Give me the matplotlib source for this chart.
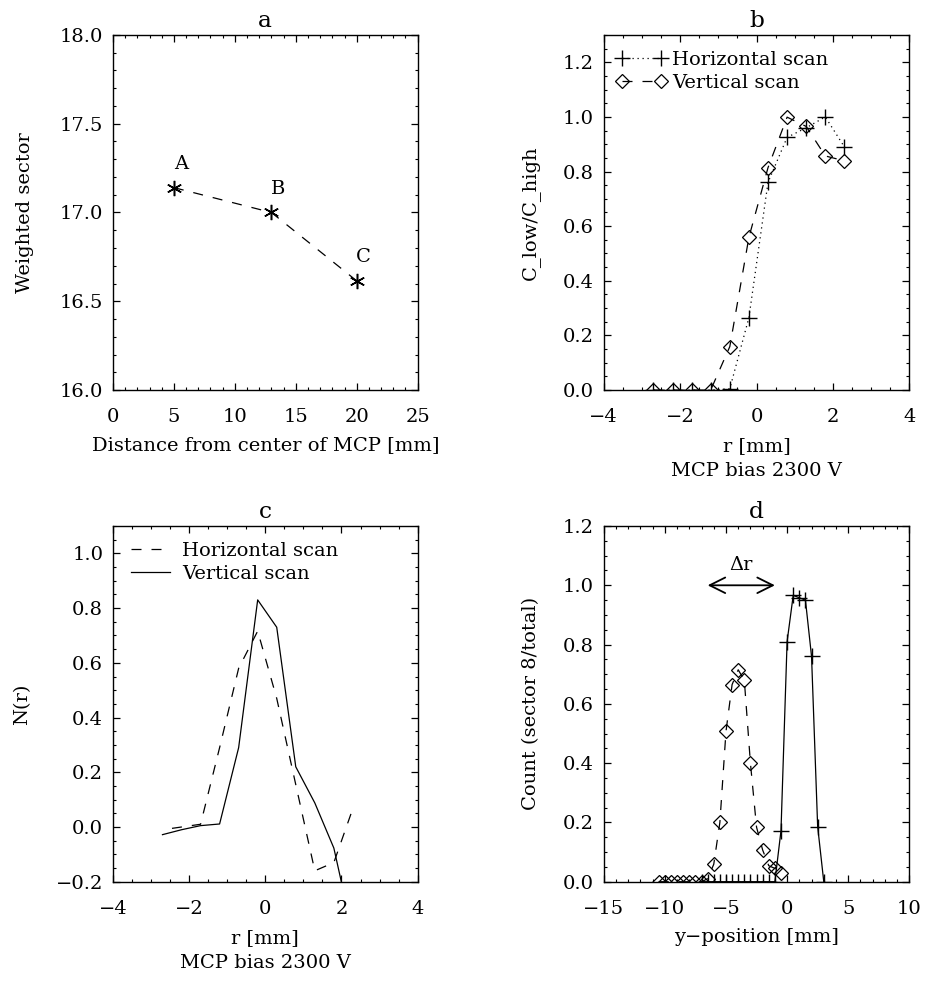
import matplotlib
matplotlib.use("Agg")
import matplotlib.pyplot as plt
from matplotlib.ticker import MultipleLocator, FuncFormatter

plt.rcParams["font.family"] = ["DejaVu Serif"]
plt.rcParams["font.size"] = 14

# panel a: weighted sector vs distance
dist_mm = [5, 13, 20]
weighted_sector = [17.14, 17.0, 16.615]
point_labels = ["A", "B", "C"]

# panel b: C_low/C_high ratio
r_b = [-2.7, -2.2, -1.7, -1.2, -0.7, -0.2, 0.3, 0.8, 1.3, 1.8, 2.3]
ratio_horiz = [0.0, 0.0, 0.0, 0.0, 0.005, 0.265, 0.76, 0.925, 0.96, 1.0, 0.89]
ratio_vert = [0.0, 0.0, 0.0, 0.0, 0.159, 0.559, 0.814, 0.999, 0.965, 0.857, 0.839]

# panel c: N(r)
r_c_horiz = [-2.45, -2.2, -1.7, -1.2, -0.7, -0.2, 0.3, 0.8, 1.3, 1.8, 2.3]
n_horiz = [-0.005, 0.0, 0.01, 0.29, 0.58, 0.716, 0.47, 0.155, -0.16, -0.13, 0.068]
r_c_vert = [-2.7, -2.2, -1.7, -1.2, -0.7, -0.2, 0.3, 0.8, 1.3, 1.8, 2.3]
n_vert = [-0.028, -0.01, 0.005, 0.011, 0.29, 0.83, 0.73, 0.22, 0.088, -0.077, -0.39]

# panel d: count fraction vs y-position
ypos_vert = [-10.5, -10.0, -9.5, -9.0, -8.5, -8.0, -7.5, -7.0, -6.5, -6.0, -5.5,
             -5.0, -4.5, -4.0, -3.5, -3.0, -2.5, -2.0, -1.5, -1.0, -0.5]
count_vert = [0.0, 0.0, 0.0, 0.0, 0.0, 0.0, 0.0, 0.0, 0.01, 0.059, 0.20,
              0.507, 0.665, 0.715, 0.68, 0.40, 0.184, 0.107, 0.054, 0.045, 0.028]
ypos_horiz = [-7.0, -6.5, -6.0, -5.5, -5.0, -4.5, -4.0, -3.5, -3.0, -2.5, -2.0,
              -1.5, -1.0, -0.5, 0.0, 0.5, 1.0, 1.5, 2.0, 2.5, 3.0]
count_horiz = [0.0, 0.0, 0.0, 0.0, 0.0, 0.0, 0.0, 0.0, 0.0, 0.0, 0.0,
               0.0, 0.0, 0.172, 0.81, 0.966, 0.958, 0.95, 0.76, 0.186, 0.0]
delta_r_span = [-6.5, -1.0]

DASH = (0, (8, 8))
DOT = (0, (1, 3))
LW = 0.9


def one_decimal(v, pos):
    s = f"{v:.1f}"
    if s == "-0.0":
        s = "0.0"
    return s.replace("-", "\u2212")


def style_axes(ax, xmaj, xmin, ymaj, ymin, ylab_x):
    ax.xaxis.set_major_locator(MultipleLocator(xmaj))
    ax.xaxis.set_minor_locator(MultipleLocator(xmin))
    ax.yaxis.set_major_locator(MultipleLocator(ymaj))
    ax.yaxis.set_minor_locator(MultipleLocator(ymin))
    ax.yaxis.set_major_formatter(FuncFormatter(one_decimal))
    ax.tick_params(which="both", direction="in", top=True, right=True)
    ax.tick_params(which="major", length=5, width=0.9)
    ax.tick_params(which="minor", length=2.5, width=0.8)
    ax.tick_params(axis="x", which="major", pad=13)
    ax.tick_params(axis="y", which="major", pad=7)
    ax.yaxis.set_label_coords(ylab_x, 0.5)
    for s in ax.spines.values():
        s.set_linewidth(1.0)


fig = plt.figure(figsize=(9.26, 9.81), dpi=100)
ax_a = fig.add_axes([0.122, 0.6024, 0.329, 0.362])
ax_b = fig.add_axes([0.652, 0.6024, 0.330, 0.362])
ax_c = fig.add_axes([0.122, 0.1012, 0.329, 0.3626])
ax_d = fig.add_axes([0.652, 0.1012, 0.330, 0.3626])

# --- a ---
ax_a.plot(dist_mm, weighted_sector, color="k", lw=LW, linestyle=DASH,
          marker=(6, 2, 0), ms=11, mew=1.1)
for x, y, lab in zip(dist_mm, weighted_sector, point_labels):
    ax_a.annotate(lab, (x, y), xytext=(5, 17), textcoords="offset points",
                  ha="center", va="center")
ax_a.set_xlim(0, 25)
ax_a.set_ylim(16.0, 18.0)
style_axes(ax_a, 5, 1, 0.5, 0.1, -0.26)
ax_a.set_title("a", pad=6)
ax_a.set_xlabel("Distance from center of MCP [mm]", labelpad=7)
ax_a.set_ylabel("Weighted sector")

# --- b ---
ax_b.plot(r_b, ratio_horiz, color="k", lw=LW, linestyle=DOT, marker="+",
          ms=11, mew=1.0, label="Horizontal scan")
ax_b.plot(r_b, ratio_vert, color="k", lw=LW, linestyle=DASH, marker="D",
          ms=7, mfc="none", mew=0.9, label="Vertical scan")
ax_b.set_xlim(-4, 4)
ax_b.set_ylim(0, 1.3)
style_axes(ax_b, 2, 0.5, 0.2, 0.05, -0.21)
ax_b.set_title("b", pad=6)
ax_b.set_xlabel("r [mm]\nMCP bias 2300 V", labelpad=8, linespacing=1.5)
ax_b.set_ylabel("C_low/C_high")
ax_b.legend(loc="upper left", bbox_to_anchor=(0.04, 0.955), frameon=False,
            numpoints=2, handlelength=2.6, handletextpad=0.3,
            borderpad=0, borderaxespad=0, labelspacing=0.25)

# --- c ---
ax_c.plot(r_c_horiz, n_horiz, color="k", lw=LW, linestyle=DASH,
          label="Horizontal scan")
ax_c.plot(r_c_vert, n_vert, color="k", lw=LW, linestyle="-",
          label="Vertical scan")
ax_c.set_xlim(-4, 4)
ax_c.set_ylim(-0.2, 1.1)
style_axes(ax_c, 2, 0.5, 0.2, 0.05, -0.268)
ax_c.set_title("c", pad=6)
ax_c.set_xlabel("r [mm]\nMCP bias 2300 V", labelpad=8, linespacing=1.5)
ax_c.set_ylabel("N(r)")
ax_c.legend(loc="upper left", bbox_to_anchor=(0.06, 0.955), frameon=False,
            handlelength=2.0, handletextpad=0.6,
            borderpad=0, borderaxespad=0, labelspacing=0.25)

# --- d ---
ax_d.plot(ypos_vert, count_vert, color="k", lw=LW, linestyle=DASH,
          marker="D", ms=7, mfc="none", mew=0.9)
ax_d.plot(ypos_horiz, count_horiz, color="k", lw=LW, linestyle="-",
          marker="+", ms=11, mew=1.0)
ax_d.annotate("", xy=(delta_r_span[1], 1.0), xytext=(delta_r_span[0], 1.0),
              arrowprops=dict(arrowstyle="<->,head_length=0.8,head_width=0.4",
                              lw=1.3, color="k", shrinkA=0, shrinkB=0))
ax_d.text(sum(delta_r_span) / 2, 1.07, "\u0394r", ha="center", va="center")
ax_d.set_xlim(-15, 10)
ax_d.set_ylim(0, 1.2)
style_axes(ax_d, 5, 1, 0.2, 0.05, -0.21)
ax_d.set_title("d", pad=6)
ax_d.set_xlabel("y\u2212position [mm]", labelpad=7)
ax_d.set_ylabel("Count (sector 8/total)")

fig.savefig("out.png", dpi=100)
